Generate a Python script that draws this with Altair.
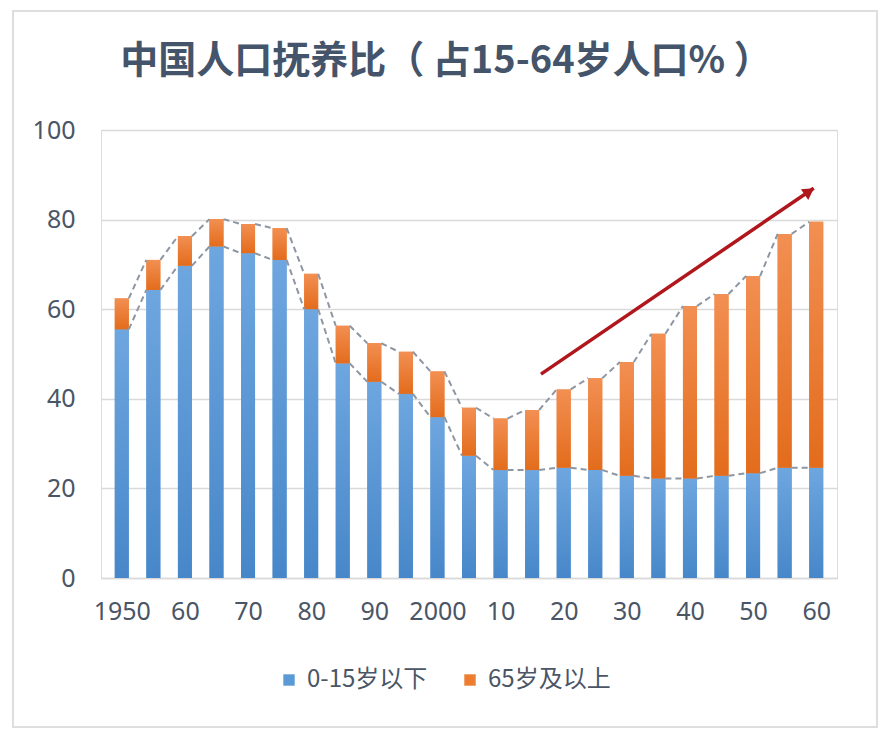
import altair as alt
import pandas as pd

years = [1950, 1955, 1960, 1965, 1970, 1975, 1980, 1985, 1990, 1995, 2000, 2005,
         2010, 2015, 2020, 2025, 2030, 2035, 2040, 2045, 2050, 2055, 2060]
young = [55.5, 64.3, 69.7, 74.0, 72.5, 71.0, 60.0, 47.9, 43.8, 41.1, 35.9, 27.3,
         24.1, 24.1, 24.6, 24.1, 22.8, 22.2, 22.2, 22.8, 23.4, 24.6, 24.6]
total = [62.4, 71.0, 76.3, 80.1, 79.0, 78.1, 67.9, 56.3, 52.4, 50.5, 46.1, 38.0,
         35.6, 37.5, 42.1, 44.6, 48.2, 54.5, 60.7, 63.4, 67.4, 76.8, 79.5]
series_names = ["0-15岁以下", "65岁及以上"]
tick_years = [1950, 1960, 1970, 1980, 1990, 2000, 2010, 2020, 2030, 2040, 2050, 2060]
title_text = "中国人口抚养比（ 占15-64岁人口% ）"
arrow_x = [2016.4, 2059.6]
arrow_y = [45.5, 87.0]
head_x = [2058.9]
head_y = [86.3]

df = pd.DataFrame({"year": years, "young": young, "total": total})
df["next_year"] = df["year"].shift(-1)
df["next_young"] = df["young"].shift(-1)
df["next_total"] = df["total"].shift(-1)
seg = df.dropna()

long = pd.concat([
    pd.DataFrame({"year": years, "lo": [0] * len(years), "hi": young, "series": series_names[0]}),
    pd.DataFrame({"year": years, "lo": young, "hi": total, "series": series_names[1]}),
])

TXT = "#4a5566"
FONT = "Noto Sans"
CJK = "Noto Sans CJK SC"

xscale = alt.Scale(domain=[1947.5, 2062.5], nice=False, zero=False)
yscale = alt.Scale(domain=[0, 100], nice=False)

xaxis = alt.Axis(values=tick_years, format="d", title=None, ticks=False, grid=False,
                 domain=True, domainColor="#d9d9d9", domainWidth=1.5,
                 labelFont=FONT, labelFontSize=25, labelColor=TXT, labelPadding=21,
                 labelExpr="datum.value == 1950 || datum.value == 2000 ? '' + datum.value : slice('' + datum.value, 2)")
yaxis = alt.Axis(values=[0, 20, 40, 60, 80, 100], title=None, ticks=False, domain=False,
                 grid=True, gridColor="#d9d9d9", gridWidth=1.5,
                 labelFont=FONT, labelFontSize=25, labelColor=TXT, labelPadding=26)

base_bars = alt.Chart(long).mark_bar(width=14).encode(
    x=alt.X("year:Q", scale=xscale, axis=xaxis),
    y=alt.Y("lo:Q", scale=yscale, axis=yaxis),
    y2="hi:Q",
    color=alt.Color("series:N",
                    scale=alt.Scale(domain=series_names, range=["#5b9bd5", "#ed7d31"]),
                    legend=alt.Legend(title=None, orient="none", legendX=176, legendY=538,
                                      direction="horizontal", symbolType="square",
                                      symbolSize=130, symbolStrokeWidth=0,
                                      labelFont=CJK, labelFontSize=24, labelColor=TXT,
                                      labelOffset=6, columnPadding=30)),
)

blue_grad = alt.Gradient(gradient="linear", x1=0, x2=0, y1=0, y2=1,
                         stops=[alt.GradientStop(color="#6ea6df", offset=0),
                                alt.GradientStop(color="#4787c9", offset=1)])
orange_grad = alt.Gradient(gradient="linear", x1=0, x2=0, y1=0, y2=1,
                           stops=[alt.GradientStop(color="#f28f52", offset=0),
                                  alt.GradientStop(color="#e36c1c", offset=1)])

blue_bars = alt.Chart(df).mark_bar(width=14, color=blue_grad).encode(
    x="year:Q", y=alt.Y("young:Q"), y2=alt.datum(0)
)
orange_bars = alt.Chart(df).mark_bar(width=14, color=orange_grad).encode(
    x="year:Q", y="young:Q", y2="total:Q"
)

dash_style = dict(color="#8d96a2", strokeWidth=2, strokeDash=[6, 4], xOffset=7, x2Offset=-7)
young_line = alt.Chart(seg).mark_rule(**dash_style).encode(
    x="year:Q", x2="next_year:Q", y="young:Q", y2="next_young:Q"
)
total_line = alt.Chart(seg).mark_rule(**dash_style).encode(
    x="year:Q", x2="next_year:Q", y="total:Q", y2="next_total:Q"
)

arrow_df = pd.DataFrame({"x": arrow_x, "y": arrow_y})
arrow_line = alt.Chart(arrow_df).mark_line(color="#b0161c", strokeWidth=3.5, clip=False).encode(
    x="x:Q", y="y:Q"
)
head = alt.Chart(pd.DataFrame({"x": head_x, "y": head_y})).mark_point(
    shape="triangle-up", filled=True, color="#b0161c", opacity=1, size=170, angle=56, clip=False
).encode(x="x:Q", y="y:Q")

frame = alt.Chart(pd.DataFrame({"a": [0]})).mark_rect(
    filled=False, stroke="#dedede", strokeWidth=2, clip=False
).encode(x=alt.value(-88), x2=alt.value(776), y=alt.value(-119), y2=alt.value(597))

title = alt.Chart(pd.DataFrame({"t": [title_text]})).mark_text(
    font=CJK, fontSize=38, fontWeight="bold", color="#44546a",
    align="center", baseline="middle", clip=False
).encode(text="t:N", x=alt.value(345), y=alt.value(-68))

chart = alt.layer(
    base_bars, blue_bars, orange_bars, young_line, total_line, arrow_line, head, frame, title
).properties(
    width=736, height=448,
    padding={"left": 93, "top": 122, "right": 46, "bottom": 150},
    autosize=alt.AutoSizeParams(type="none"),
).configure_view(stroke=None).configure(background="white")

chart.save("out.html", embed_options={"renderer": "svg", "actions": False})
